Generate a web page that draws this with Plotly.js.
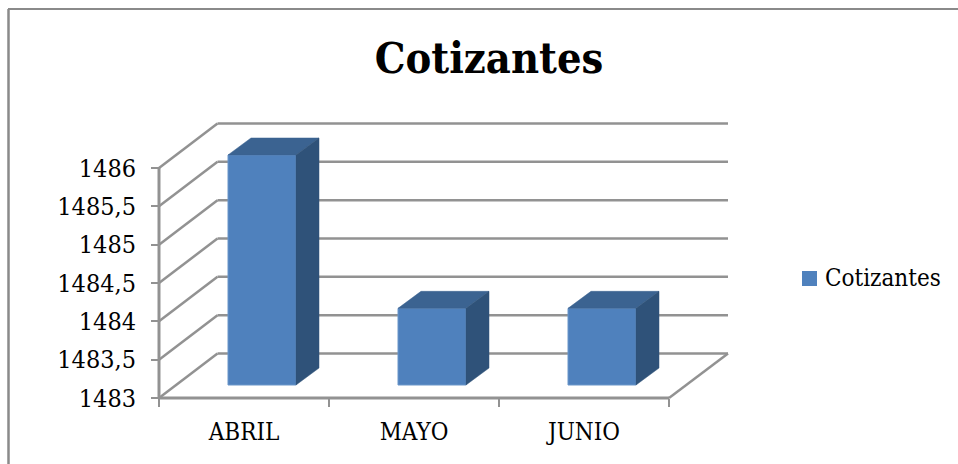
<!DOCTYPE html>
<html><head><meta charset="utf-8">
<script src="https://cdn.plot.ly/plotly-3.0.1.min.js"></script>
<style>html,body{margin:0;padding:0;background:#fff}#c{width:958px;height:464px}</style>
</head><body><div id="c"></div>
<script>
const categories = ['ABRIL','MAYO','JUNIO'];
const values = [1486,1484,1484];
const seriesName = 'Cotizantes';
const yTickValues = [1483,1483.5,1484,1484.5,1485,1485.5,1486];
const yTickLabels = ['1483','1483,5','1484','1484,5','1485','1485,5','1486'];
const xBoundaries = [-0.5,0.5,1.5,2.5];

const W=958,H=464;
const pxX=170, pxY=76.67;          // pixels per category / per unit
const AX=159, AY=398;              // where the two axes cross
const L=150,T=118,R=736,B=404;     // plot frame, a little wider than the axes
const yMin=1483, xMin=-0.5;
const yRange=[yMin-(B-AY)/pxY, yMin+(AY-T)/pxY];
const xRange=[xMin-(AX-L)/pxX, xMin+(R-AX)/pxX];
const depthX=58.5/pxX, depthY=44.5/pxY; // wall depth offset
const backEnd=xMin+(728-AX)/pxX;
const barW=68/pxX;
const bx0=18/pxX, by0=13/pxY;      // bar front offset from floor front
const bdx=23/pxX, bdy=17/pxY;      // bar depth offset
const font='"DejaVu Serif Condensed","DejaVu Serif",serif';
const grid={color:'#929292',width:2.5};

const shapes=[];
function seg(x0,y0,x1,y1,w){shapes.push({type:'line',layer:'below',xref:'x',yref:'y',x0,y0,x1,y1,line:{color:grid.color,width:w||grid.width}});}
yTickValues.forEach(v=>{
  seg(xMin,v,xMin+depthX,v+depthY);
  seg(xMin+depthX,v+depthY,backEnd,v+depthY);
});
seg(xMin,yMin,xMin,yTickValues[yTickValues.length-1],3); // value axis
seg(xMin,yMin,xBoundaries[3],yMin,3);                    // category axis
seg(xBoundaries[3],yMin,backEnd,yMin+depthY);            // floor edge
// outer chart frame
shapes.push({type:'line',xref:'paper',yref:'paper',x0:8/W,x1:1,y0:1-9/H,y1:1-9/H,line:{color:'#8a8a8a',width:2}});
shapes.push({type:'line',xref:'paper',yref:'paper',x0:8.5/W,x1:8.5/W,y0:0,y1:1-9/H,line:{color:'#8a8a8a',width:2.5}});
// legend swatch
shapes.push({type:'rect',xref:'paper',yref:'paper',x0:802/W,x1:817/W,y0:1-286/H,y1:1-271/H,fillcolor:'#4f81bd',line:{width:0}});

const xs=categories.map((_,i)=>i);
const traces=[{
  type:'bar',name:seriesName,x:xs.map(i=>i+bx0),y:values.map(v=>v-yMin),base:values.map(()=>yMin+by0),
  width:barW,marker:{color:'#4f81bd',line:{color:'#6b96c9',width:1}},showlegend:false,hoverinfo:'skip',
  xaxis:'x',yaxis:'y'
}];
values.forEach((v,i)=>{
  const xl=i+bx0-barW/2, xr=i+bx0+barW/2, yb=yMin+by0, yt=v+by0;
  traces.push({type:'scatter',mode:'lines',showlegend:false,hoverinfo:'skip',fill:'toself',fillcolor:'#3b6391',line:{width:0.5,color:'#3b6391'},
    x:[xl,xr,xr+bdx,xl+bdx,xl],y:[yt,yt,yt+bdy,yt+bdy,yt]});
  traces.push({type:'scatter',mode:'lines',showlegend:false,hoverinfo:'skip',fill:'toself',fillcolor:'#2f5279',line:{width:0.5,color:'#2f5279'},
    x:[xr,xr+bdx,xr+bdx,xr,xr],y:[yt,yt+bdy,yb+bdy,yb,yt]});
});
// carrier for the category label axis
traces.push({type:'scatter',mode:'none',x:xs,y:values,xaxis:'x2',yaxis:'y',showlegend:false,hoverinfo:'skip'});

const layout={
  width:W,height:H,margin:{l:0,r:0,t:0,b:0},paper_bgcolor:'#fff',plot_bgcolor:'rgba(0,0,0,0)',
  font:{family:font,color:'#000',size:24},showlegend:false,
  title:{text:'<b>'+seriesName+'</b>',x:489/W,xanchor:'center',y:1-58/H,yanchor:'middle',font:{family:font,size:43,color:'#000'}},
  bargap:0,shapes,
  annotations:[{xref:'paper',yref:'paper',x:824/W,y:1-278/H,xanchor:'left',yanchor:'middle',showarrow:false,text:seriesName,borderpad:0,font:{family:font,size:24,color:'#000'}}],
  xaxis:{domain:[L/W,R/W],range:xRange,anchor:'free',position:1-AY/H,tickvals:xBoundaries,ticktext:['','','',''],ticks:'outside',ticklen:8,tickwidth:2,tickcolor:'#929292',showgrid:false,zeroline:false,showline:false},
  xaxis2:{domain:[L/W,R/W],range:xRange,overlaying:'x',anchor:'free',position:1-AY/H,side:'bottom',tickvals:xs,ticktext:categories,ticks:'outside',ticklen:12,tickwidth:1,tickcolor:'rgba(0,0,0,0)',showgrid:false,zeroline:false,showline:false,tickfont:{family:font,size:24,color:'#000'}},
  yaxis:{domain:[1-B/H,1-T/H],range:yRange,anchor:'free',position:AX/W,tickvals:yTickValues,ticktext:yTickLabels,ticks:'outside',ticklen:8,tickwidth:2,tickcolor:'#929292',ticklabelstandoff:10,showgrid:false,zeroline:false,showline:false,tickfont:{family:font,size:25,color:'#000'}}
};
Plotly.newPlot('c',traces,layout,{displayModeBar:false,staticPlot:true});
</script></body></html>
